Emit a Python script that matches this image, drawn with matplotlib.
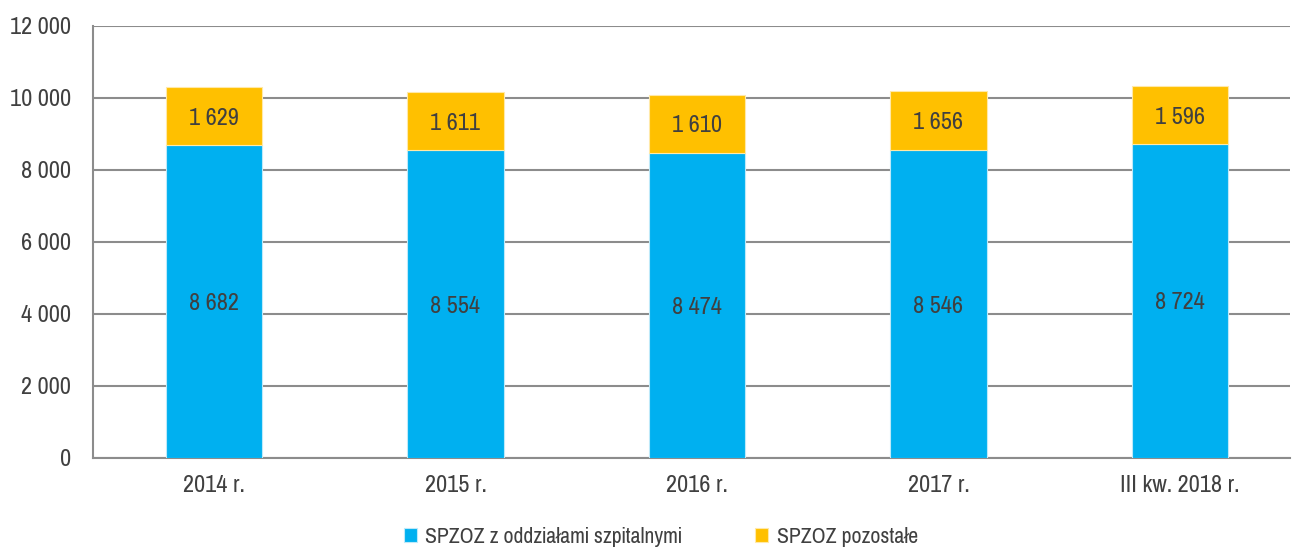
import matplotlib
matplotlib.use("Agg")
import matplotlib.pyplot as plt
import numpy as np

categories = ["2014 r.", "2015 r.", "2016 r.", "2017 r.", "III kw. 2018 r."]
hospital = [8682, 8554, 8474, 8546, 8724]
other = [1629, 1611, 1610, 1656, 1596]
series_names = ["SPZOZ z oddziałami szpitalnymi", "SPZOZ pozostałe"]
yticks = [0, 2000, 4000, 6000, 8000, 10000, 12000]

plt.rcParams['font.family'] = ['Pragati Narrow', 'Roboto Condensed', 'Liberation Sans', 'DejaVu Sans']

def fmt(v):
    return f"{v:,}".replace(",", " ")

txt = "#404040"
blue = "#00B0F0"
orange = "#FFC000"
FS = 19

fig = plt.figure(figsize=(12.92, 5.5), dpi=100)
ax = fig.add_axes([93/1292, (550-458)/550, (1290-93)/1292, 432/550])
x = np.arange(len(categories))
w = 0.40
b1 = ax.bar(x, hospital, w, color=blue, edgecolor="#BDE9F9", linewidth=0.8, label=series_names[0], zorder=3)
b2 = ax.bar(x, other, w, bottom=hospital, color=orange, edgecolor="#FFE9A8", linewidth=0.8, label=series_names[1], zorder=3)
for i in range(len(categories)):
    ax.text(x[i], hospital[i] / 2, fmt(hospital[i]), ha="center", va="center_baseline", fontsize=FS, color=txt, zorder=4)
    ax.text(x[i], hospital[i] + other[i] / 2, fmt(other[i]), ha="center", va="center_baseline", fontsize=FS, color=txt, zorder=4)

ax.set_xlim(-0.501, 4.456)
ax.set_ylim(0, 12000)
ax.set_yticks(yticks)
ax.set_yticklabels([fmt(v) for v in yticks])
ax.yaxis.grid(True, color="#8C8C8C", linewidth=1.5, zorder=0)
ax.set_axisbelow(True)
ax.set_xticks(x)
ax.set_xticklabels(categories)
ax.tick_params(axis="both", length=0, labelsize=FS, colors=txt)
ax.tick_params(axis="y", pad=16)
ax.tick_params(axis="x", pad=12)
for s in ["top", "right"]:
    ax.spines[s].set_visible(False)
for s in ["left", "bottom"]:
    ax.spines[s].set_color("#8C8C8C")
    ax.spines[s].set_linewidth(1.5)

leg = fig.legend(handles=[b1, b2], loc="center", bbox_to_anchor=(661/1292, 1 - 537/550), ncol=2,
                 frameon=False, fontsize=17, handlelength=0.55, handleheight=0.55, handletextpad=0.35,
                 columnspacing=3.1)
for t in leg.get_texts():
    t.set_color(txt)

fig.savefig("out.png", dpi=100)
